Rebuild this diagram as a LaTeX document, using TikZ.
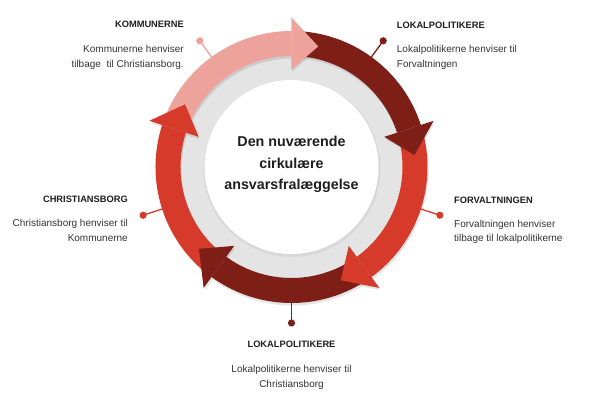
\documentclass[tikz,border=0pt]{standalone}
\usepackage{fontspec}
\setmainfont{Liberation Sans}
\definecolor{cpink}{HTML}{EDA39C}
\definecolor{cdark}{HTML}{7E1F17}
\definecolor{cred}{HTML}{D63A2B}
\definecolor{cgray}{HTML}{E4E4E4}
\definecolor{ctext}{HTML}{1E1E1E}
\definecolor{cdesc}{HTML}{333333}
\begin{document}
\begin{tikzpicture}[x=1pt,y=1pt,
  titlelbl/.style={font=\fontsize{9.3}{11}\selectfont\bfseries, text=ctext, inner sep=0pt},
  desclbl/.style={font=\fontsize{10}{14.5}\selectfont, text=cdesc, inner sep=0pt},
  pinline/.style={line width=1.3pt},
  shadowfill/.style={fill=black, fill opacity=0.10},
  centertxt/.style={font=\fontsize{14.3}{21.7}\selectfont\bfseries, text=ctext, align=center, inner sep=0pt}
]
\path[use as bounding box] (-291.5,-234) rectangle (303.5,167);
% background rings
\fill[cgray] (0,0) circle (113);
\fill[black, fill opacity=0.05] (0.5,-1.5) circle (88.5);
\fill[white] (0,0) circle (87);
% soft shadows of the arrows
\begin{scope}[shift={(1,-2.5)}]
\foreach \b in {90, 18, -54, -126, -198}{
  \pgfmathsetmacro\s{\b+71}
  \pgfmathsetmacro\t{\b-12}
  \fill[shadowfill] (\s:136) arc[start angle=\s, end angle=\b, radius=136]
    -- (\b:111) arc[start angle=\b, end angle=\s, radius=111] -- cycle;
  \fill[shadowfill] (\b:98) -- (\b:149) -- (\t:123.5) -- cycle;
}
\end{scope}
% arrow bands
\foreach \b/\c in {90/cpink, 18/cdark, -54/cred, -126/cdark, -198/cred}{
  \pgfmathsetmacro\s{\b+71}
  \fill[\c] (\s:136) arc[start angle=\s, end angle=\b, radius=136]
    -- (\b:111) arc[start angle=\b, end angle=\s, radius=111] -- cycle;
}
% arrow heads
\foreach \b/\c in {90/cpink, 18/cdark, -54/cred, -126/cdark, -198/cred}{
  \pgfmathsetmacro\t{\b-12.5}
  \fill[\c] (\b:97.5) -- (\b:149.5) -- (\t:123.5) -- cycle;
}
% pins
\foreach \a/\c/\n in {126/cpink/1, 54/cdark/2, -18/cred/3, -90/cdark/4, -162/cred/5}{
  \coordinate (ring\n) at (\a:136);
  \coordinate (dot\n) at (\a:156);
  \draw[\c, pinline] (ring\n) -- (dot\n);
  \fill[\c] (dot\n) circle (3.6);
}
% centre text
\node[centertxt] (centre) at (0,2.4) {Den nuværende\\cirkulære\\ansvarsfralæggelse};
% labels
\node[titlelbl, anchor=base east] (t1) at (-107.5,139) {KOMMUNERNE};
\node[desclbl, anchor=north east, align=right] (d1) at (-107.5,121.7) {Kommunerne henviser\\tilbage\ \ til Christiansborg.};
\node[titlelbl, anchor=base west] (t2) at (105.2,138.6) {LOKALPOLITIKERE};
\node[desclbl, anchor=north west, align=left] (d2) at (105.2,121.7) {Lokalpolitikerne henviser til\\Forvaltningen};
\node[titlelbl, anchor=base west] (t3) at (162.5,-36.4) {FORVALTNINGEN};
\node[desclbl, anchor=north west, align=left] (d3) at (162.5,-52.7) {Forvaltningen henviser\\tilbage til lokalpolitikerne};
\node[titlelbl, anchor=base east] (t5) at (-163.5,-35.7) {CHRISTIANSBORG};
\node[desclbl, anchor=north east, align=right] (d5) at (-163.5,-52.3) {Christiansborg henviser til\\Kommunerne};
\node[titlelbl, anchor=base] (t4) at (0,-180.4) {LOKALPOLITIKERE};
\node[desclbl, anchor=north, align=center] (d4) at (0,-198.3) {Lokalpolitikerne henviser til\\Christiansborg};
\end{tikzpicture}
\end{document}
